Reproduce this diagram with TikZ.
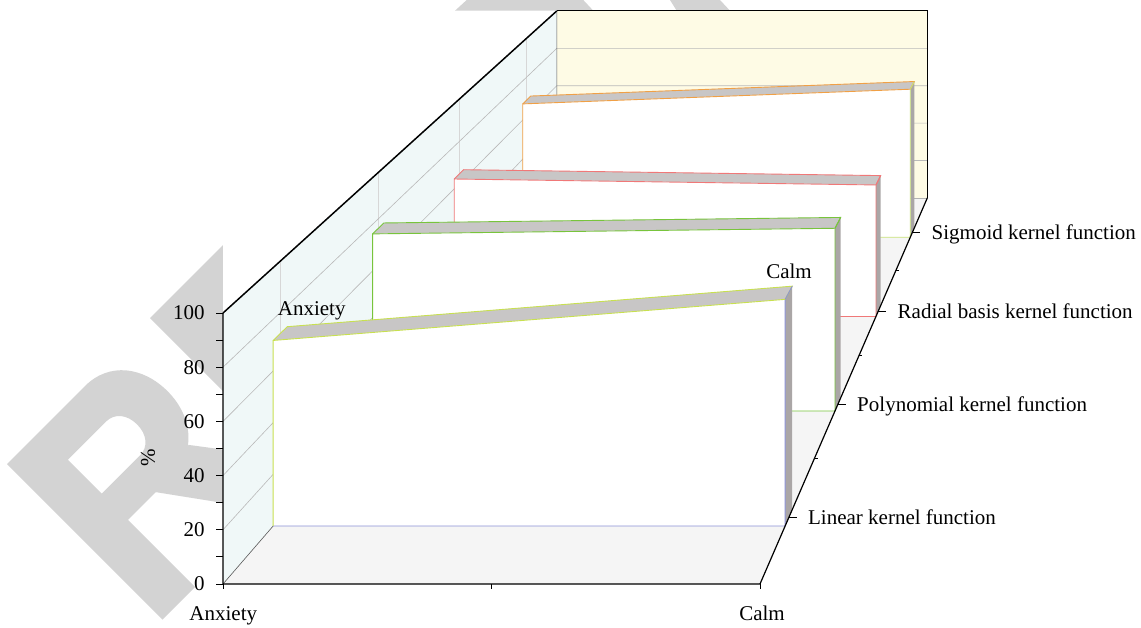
\documentclass[tikz,border=0pt]{standalone}
\usepackage{fontspec}
\setmainfont{Liberation Serif}
\definecolor{wallL}{RGB}{240,248,248}
\definecolor{wallB}{RGB}{254,251,229}
\definecolor{floorc}{RGB}{245,245,245}
\definecolor{topgray}{RGB}{200,198,198}
\definecolor{sidegray}{RGB}{170,166,166}
\definecolor{gridc}{RGB}{185,185,185}
\definecolor{vgridc}{RGB}{215,215,215}
\definecolor{wmc}{RGB}{211,211,211}
\definecolor{limec}{RGB}{200,224,80}
\definecolor{peric}{RGB}{140,145,214}
\definecolor{greenc}{RGB}{120,196,60}
\definecolor{redc}{RGB}{240,120,120}
\definecolor{orangec}{RGB}{240,160,70}
\definecolor{ygreenc}{RGB}{200,225,120}
% perspective projection: u (0..1 across), d (0..1 depth), h (0..100 height)
\newcommand{\pp}[4]{%
  \pgfmathsetmacro{\ppS}{1/(1+0.4491*(#3))}%
  \pgfmathsetmacro{\ppX}{1299.8+(223+537*(#2)-1299.8)*\ppS}%
  \pgfmathsetmacro{\ppY}{-661.5+(584-2.71*(#4)+661.5)*\ppS}%
  \coordinate (#1) at (\ppX,\ppY);}
% ribbon: name, centre depth, anxiety value, calm value, left/top colour, bottom/right colour, top-face colour
\newcommand{\ribbon}[7]{%
  \pp{#1a}{0}{#2-0.016}{0}\pp{#1b}{1}{#2-0.016}{0}%
  \pp{#1c}{1}{#2-0.016}{#4}\pp{#1d}{0}{#2-0.016}{#3}%
  \pp{#1e}{0}{#2+0.016}{#3}\pp{#1f}{1}{#2+0.016}{#4}%
  \pp{#1g}{1}{#2+0.016}{0}%
  \fill[topgray] (#1d)--(#1c)--(#1f)--(#1e)--cycle;
  \fill[sidegray] (#1b)--(#1c)--(#1f)--(#1g)--cycle;
  \fill[white] (#1a)--(#1b)--(#1c)--(#1d)--cycle;
  \draw[ribline,#7] (#1d)--(#1e)--(#1f)--(#1c);
  \draw[ribline,#6] (#1a)--(#1b)--(#1c)--(#1f);
  \draw[ribline,#5] (#1a)--(#1d)--(#1c);}
\begin{document}
\begin{tikzpicture}[x=0.5pt,y=-0.5pt,
  lab/.style={font=\fontsize{10.5}{12}\selectfont, inner sep=0pt},
  axisline/.style={black, line width=0.6pt},
  tickline/.style={black, line width=0.5pt},
  ribline/.style={line width=0.45pt},
  gridline/.style={gridc, line width=0.3pt},
  vgridline/.style={vgridc, line width=0.3pt}]
\useasboundingbox (0,0) rectangle (1141,627);
% watermark letters (behind the plot area)
\begin{scope}[shift={(7,464)}, rotate=45]
\fill[wmc, even odd rule]
  (0,0) -- (110,0) .. controls (145,0) and (165,28) .. (165,62)
  .. controls (165,98) and (142,125) .. (110,125) -- (46,125) -- (46,220) -- (0,220) -- cycle
  (46,40) -- (100,40) .. controls (112,40) and (120,50) .. (120,64)
  .. controls (120,78) and (112,88) .. (100,88) -- (46,88) -- cycle;
\fill[wmc] (78,115) -- (142,115) -- (222,220) -- (154,220) -- cycle;
\end{scope}
\fill[wmc] (150,318) -- (223,245) -- (223,391) -- cycle;
\fill[wmc] (455,10.7) -- (466.7,0) -- (583.3,0) -- (593.3,10.7) -- cycle;
\fill[wmc] (670,0) -- (720,0) -- (730,10.7) -- (676.7,10.7) -- cycle;
\fill[white] (223,11) rectangle (928,584);
% corners of the box
\pp{O}{0}{0}{0}\pp{X}{1}{0}{0}\pp{T}{0}{0}{100}
\pp{BO}{0}{1}{0}\pp{BX}{1}{1}{0}\pp{BT}{0}{1}{100}\pp{BXT}{1}{1}{100}
% floor and walls
\fill[floorc] (O)--(X)--(BX)--(BO)--cycle;
\fill[wallL] (O)--(BO)--(BT)--(T)--cycle;
\fill[wallB] (BO)--(BX)--(BXT)--(BT)--cycle;
% grid
\foreach \k in {1,3,5,7}{\pp{vg1}{0}{\k/8}{0}\pp{vg2}{0}{\k/8}{100}\draw[vgridline] (vg1)--(vg2);}
\foreach \h in {20,40,60,80}{\pp{g1}{0}{0}{\h}\pp{g2}{0}{1}{\h}\pp{g3}{1}{1}{\h}\draw[gridline] (g1)--(g2)--(g3);}
\draw[gray!70!black, line width=0.3pt] (O)--(BO)--(BT);
\draw[gray!60, line width=0.3pt] (BO)--(BX);
\draw[black, line width=0.75pt] (T)--(BT);
\draw[black, line width=0.5pt] (BT)--(BXT)--(BX);
% ribbons, back to front
\ribbon{sg}{0.875}{68.2}{75.7}{orangec}{ygreenc}{orangec}
\ribbon{rb}{0.625}{64.6}{61.8}{redc}{redc}{redc}
\ribbon{po}{0.375}{75.9}{78.3}{greenc}{greenc}{greenc}
\ribbon{li}{0.125}{71.8}{87.7}{limec}{peric}{limec}
% axes
\draw[axisline] (T)--(O)--(X)--(BX);
\foreach \v in {0,10,...,100}{\pp{yt}{0}{0}{\v}\draw[tickline] (yt)--++(-7,0);}
\foreach \v in {0,20,...,100}{\pp{yl}{0}{0}{\v}\node[lab, anchor=east] (ylab\v) at ([shift={(-18,0)}]yl) {\v};}
\foreach \u in {0,0.5,1}{\pp{xt}{\u}{0}{0}\draw[tickline] (xt)--++(0,5);}
\foreach \k in {2,4,6}{\pp{dm}{1}{\k/8}{0}\draw[tickline] (dm)--++(3,0);}
\foreach \k in {1,3,5,7}{\pp{dt\k}{1}{\k/8}{0}\draw[tickline] (dt\k)--++(8,0);}
\node[lab, anchor=base west] (lLin) at ([shift={(19,7)}]dt1) {Linear kernel function};
\node[lab, anchor=base west] (lPol) at ([shift={(19,7)}]dt3) {Polynomial kernel function};
\node[lab, anchor=base west] (lRad) at ([shift={(19,7)}]dt5) {Radial basis kernel function};
\node[lab, anchor=base west] (lSig) at ([shift={(19,7)}]dt7) {Sigmoid kernel function};
\node[lab, anchor=base] (xA) at (223.3,620) {Anxiety};
\node[lab, anchor=base] (xC) at (762,620) {Calm};
\node[lab, anchor=base] (dA) at (311.7,315.3) {Anxiety};
\node[lab, anchor=base] (dC) at (789,278.3) {Calm};
\node[lab, rotate=90] (yname) at (148,458) {\%};
\end{tikzpicture}
\end{document}
